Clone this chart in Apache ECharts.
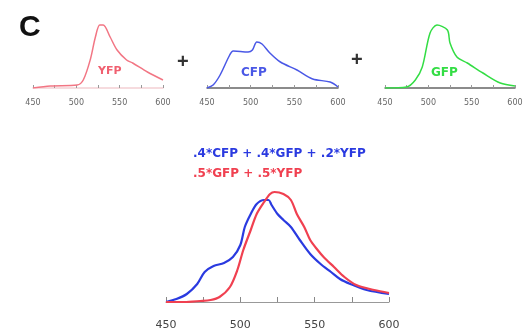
<!DOCTYPE html>
<html>
<head>
<meta charset="utf-8">
<script src="https://cdn.jsdelivr.net/npm/echarts@6/dist/echarts.min.js"></script>
<style>
  html, body { margin: 0; padding: 0; background: #fff; }
  #chart { width: 526px; height: 332px; }
</style>
</head>
<body>
<div id="chart"></div>
<script>
// emission spectra (height above baseline, px)
const yfpNm = [450, 470, 501, 508, 516, 522, 527, 531, 539, 547, 558, 565, 582, 600]
const yfpVal = [0, 2, 3, 8, 28, 51, 63, 63, 51, 38, 28, 25, 16, 8]

const cfpNm = [450, 457, 465, 476, 480, 497, 502, 507, 513, 522, 534, 553, 571, 591, 600]
const cfpVal = [0, 3, 13, 33, 37, 36, 38, 46, 44, 35, 26, 18, 9, 6, 1]

const gfpNm = [450, 475, 485, 493, 502, 510, 522, 525, 533, 545, 563, 583, 600]
const gfpVal = [0, 1, 8, 21, 55, 63, 58, 45, 31, 25, 15, 5, 2]

const mixBlueNm = [450, 457, 464, 471, 476, 482, 489, 495, 500, 503, 507, 511, 516, 519, 521, 525, 529, 534, 540, 547, 554, 561, 567, 574, 585, 600]
const mixBlueVal = [0, 3, 8, 18, 30, 36, 39, 45, 57, 75, 88, 98, 102, 102, 97, 88, 82, 75, 62, 48, 38, 30, 23, 18, 12, 8]

const mixRedNm = [450, 462, 473, 480, 486, 493, 498, 502, 507, 511, 516, 520, 523, 529, 534, 538, 543, 547, 552, 556, 563, 570, 578, 590, 600]
const mixRedVal = [0, 0, 1, 2, 5, 15, 32, 52, 72, 88, 100, 108, 110, 108, 102, 88, 75, 62, 52, 45, 35, 25, 17, 12, 9]

const tickLabels = [450, 500, 550, 600]
const mixLabelBlue = '.4*CFP + .4*GFP + .2*YFP'
const mixLabelRed = '.5*GFP + .5*YFP'

const zip = (xs, ys) => xs.map((x, i) => [x, ys[i]])

const chart = echarts.init(document.getElementById('chart'))

const smallAxis = (gridIndex, lineColor) => ({
  type: 'value',
  gridIndex,
  min: 450,
  max: 600,
  interval: 25,
  axisLine: { show: true, lineStyle: { color: lineColor, width: 1.5 } },
  axisTick: { show: true, inside: true, length: 3, lineStyle: { color: '#999' } },
  axisLabel: {
    color: '#666',
    fontSize: 8,
    fontFamily: 'DejaVu Sans',
    margin: 11,
    formatter: (v) => (tickLabels.includes(v) ? String(v) : ''),
  },
  splitLine: { show: false },
})

const hiddenY = (gridIndex, max) => ({
  type: 'value',
  gridIndex,
  min: 0,
  max,
  show: false,
})

const label = (text, left, top, size, color, family) => ({
  text,
  left,
  top,
  padding: 0,
  textStyle: { fontSize: size, fontWeight: 'bold', color, fontFamily: family || 'DejaVu Sans' },
})

const option = {
  animation: false,
  backgroundColor: '#fff',
  grid: [
    { left: 33, top: 18, width: 130, height: 70 },
    { left: 207, top: 18, width: 131, height: 70 },
    { left: 385, top: 18, width: 130, height: 70 },
    { left: 166, top: 182, width: 223, height: 120 },
  ],
  xAxis: [
    smallAxis(0, '#f3d0d4'),
    smallAxis(1, '#666'),
    smallAxis(2, '#666'),
    {
      type: 'value',
      gridIndex: 3,
      min: 450,
      max: 600,
      interval: 25,
      axisLine: { show: true, lineStyle: { color: '#999', width: 1 } },
      axisTick: { show: true, inside: true, length: 5, lineStyle: { color: '#888' } },
      axisLabel: {
        color: '#444',
        fontSize: 11,
        fontFamily: 'DejaVu Sans',
        margin: 18,
        formatter: (v) => (tickLabels.includes(v) ? String(v) : ''),
      },
      splitLine: { show: false },
    },
  ],
  yAxis: [hiddenY(0, 70), hiddenY(1, 70), hiddenY(2, 70), hiddenY(3, 120)],
  title: [
    label('C', 19, 13, 30, '#111', 'Liberation Sans'),
    label('+', 177, 52, 20, '#333', 'Liberation Sans'),
    label('+', 351, 50, 20, '#333', 'Liberation Sans'),
    label('YFP', 98, 66, 11, '#f06070'),
    label('CFP', 241, 67, 12, '#4a58e6'),
    label('GFP', 431, 67, 12, '#33dd44'),
    label(mixLabelBlue, 193, 148, 12, '#2a3ae0'),
    label(mixLabelRed, 193, 168, 12, '#f04050'),
  ],
  series: [
    {
      type: 'line', xAxisIndex: 0, yAxisIndex: 0, smooth: 0.3, showSymbol: false,
      lineStyle: { color: '#f27684', width: 1.5 },
      data: zip(yfpNm, yfpVal),
    },
    {
      type: 'line', xAxisIndex: 1, yAxisIndex: 1, smooth: 0.3, showSymbol: false,
      lineStyle: { color: '#4a58e6', width: 1.5 },
      data: zip(cfpNm, cfpVal),
    },
    {
      type: 'line', xAxisIndex: 2, yAxisIndex: 2, smooth: 0.3, showSymbol: false,
      lineStyle: { color: '#33dd44', width: 1.5 },
      data: zip(gfpNm, gfpVal),
    },
    {
      type: 'line', xAxisIndex: 3, yAxisIndex: 3, smooth: 0.3, showSymbol: false,
      lineStyle: { color: '#2a3ae0', width: 2.2 },
      data: zip(mixBlueNm, mixBlueVal),
    },
    {
      type: 'line', xAxisIndex: 3, yAxisIndex: 3, smooth: 0.3, showSymbol: false,
      lineStyle: { color: '#f04050', width: 2.2 },
      data: zip(mixRedNm, mixRedVal),
    },
  ],
}

chart.setOption(option)
</script>
</body>
</html>
